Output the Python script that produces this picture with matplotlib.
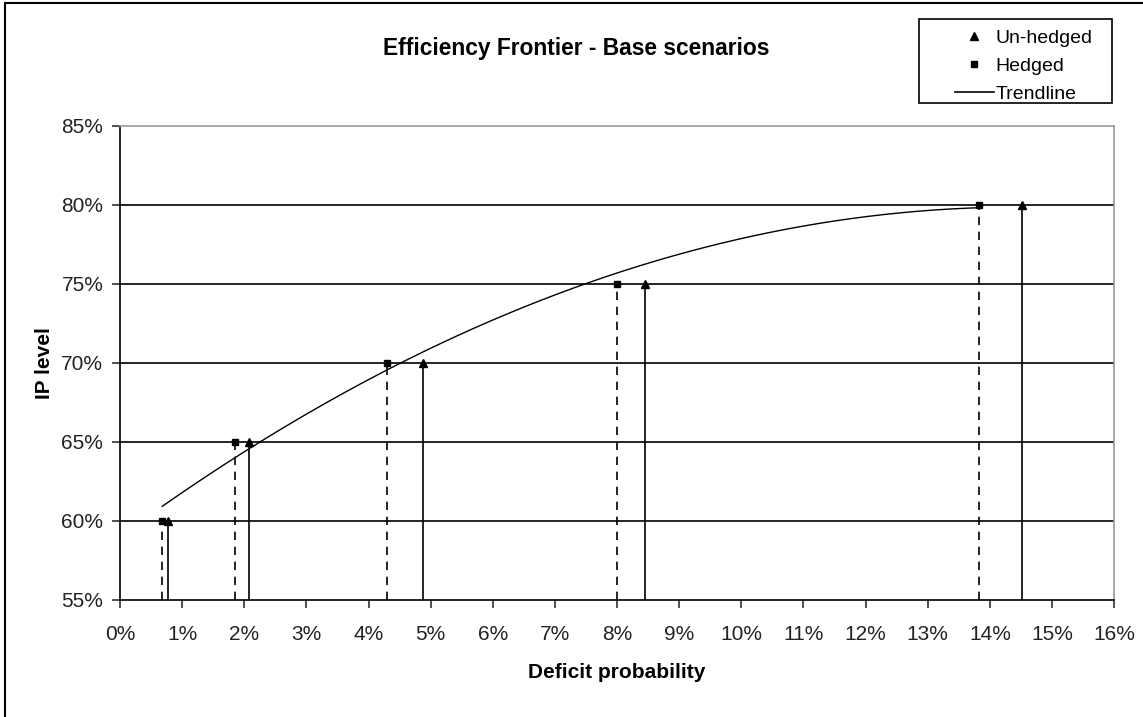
import matplotlib
matplotlib.use("Agg")
import matplotlib.pyplot as plt
from matplotlib.lines import Line2D
from matplotlib.patches import Rectangle
from matplotlib.ticker import FuncFormatter
import numpy as np

# Efficiency frontier data (deficit probability %, IP level %)
ip_level = [60, 65, 70, 75, 80]
unhedged_deficit = [0.77, 2.07, 4.88, 8.45, 14.52]
hedged_deficit = [0.68, 1.85, 4.29, 8.00, 13.83]

x_ticks = list(range(0, 17))
y_ticks = [55, 60, 65, 70, 75, 80, 85]

font = ["Liberation Sans Narrow", "Liberation Sans", "DejaVu Sans"]
plt.rcParams["font.family"] = font

fig = plt.figure(figsize=(11.43, 7.17), dpi=100)
ax = fig.add_axes([0.105, 0.1632, 0.8697, 0.6611])

# drop lines to the x axis
ax.vlines(hedged_deficit, 55, ip_level, colors="black", linestyles=(0, (5, 4)), lw=1.2)
ax.vlines(unhedged_deficit, 55, ip_level, colors="black", lw=1.2)

# horizontal gridlines
for y in y_ticks[1:-1]:
    ax.axhline(y, color="black", lw=1.2, zorder=1)

# polynomial trendline through the hedged points
coef = np.polyfit(hedged_deficit, ip_level, 2)
xs = np.linspace(hedged_deficit[0], hedged_deficit[-1], 200)
ax.plot(xs, np.polyval(coef, xs), color="black", lw=1.0, zorder=3)

ax.plot(unhedged_deficit, ip_level, "^", color="black", ms=6, zorder=4)
ax.plot(hedged_deficit, ip_level, "s", color="black", ms=5, zorder=4)

ax.set_xlim(0, 16)
ax.set_ylim(55, 85)
ax.set_xticks(x_ticks)
ax.set_yticks(y_ticks)
ax.xaxis.set_major_formatter(FuncFormatter(lambda v, p: f"{v:.0f}%"))
ax.yaxis.set_major_formatter(FuncFormatter(lambda v, p: f"{v:.0f}%"))
ax.tick_params(direction="out", length=6, width=1.2, color="#333333",
               labelsize=15, labelcolor="#222222")
ax.tick_params(axis="y", pad=6)
ax.tick_params(axis="x", pad=12)

for side in ["left", "bottom"]:
    ax.spines[side].set_color("black")
    ax.spines[side].set_linewidth(1.2)
for side in ["top", "right"]:
    ax.spines[side].set_color("#999999")
    ax.spines[side].set_linewidth(1.2)

ax.set_xlabel("Deficit probability", fontsize=15, fontweight="bold", labelpad=14)
ax.set_ylabel("IP level", fontsize=15, fontweight="bold", labelpad=5)
fig.text(0.504, 0.933, "Efficiency Frontier - Base scenarios", ha="center", va="center",
         fontsize=16.4, fontweight="bold", family=["Liberation Sans", "DejaVu Sans"])

handles = [
    Line2D([], [], marker="^", color="black", ls="none", ms=6),
    Line2D([], [], marker="s", color="black", ls="none", ms=5),
    Line2D([], [], color="black", lw=1.2),
]
leg = fig.legend(handles, ["Un-hedged", "Hedged", "Trendline"],
                 loc="upper left", bbox_to_anchor=(0.8355, 0.9595),
                 fontsize=14, frameon=False, handlelength=2.0,
                 handletextpad=0.1, labelspacing=0.55, borderpad=0,
                 borderaxespad=0)

# legend frame
fig.add_artist(Rectangle((0.804, 0.8563), 0.1689, 0.1172, transform=fig.transFigure,
                         fill=False, edgecolor="black", lw=1.2))

# outer chart frame (left and top edges)
fig.add_artist(Line2D([0.0045, 0.0045], [0.0, 0.9955], color="black", lw=1.5,
                      transform=fig.transFigure))
fig.add_artist(Line2D([0.0045, 1.0], [0.9955, 0.9955], color="black", lw=1.5,
                      transform=fig.transFigure))

fig.savefig("out.png", dpi=100)
